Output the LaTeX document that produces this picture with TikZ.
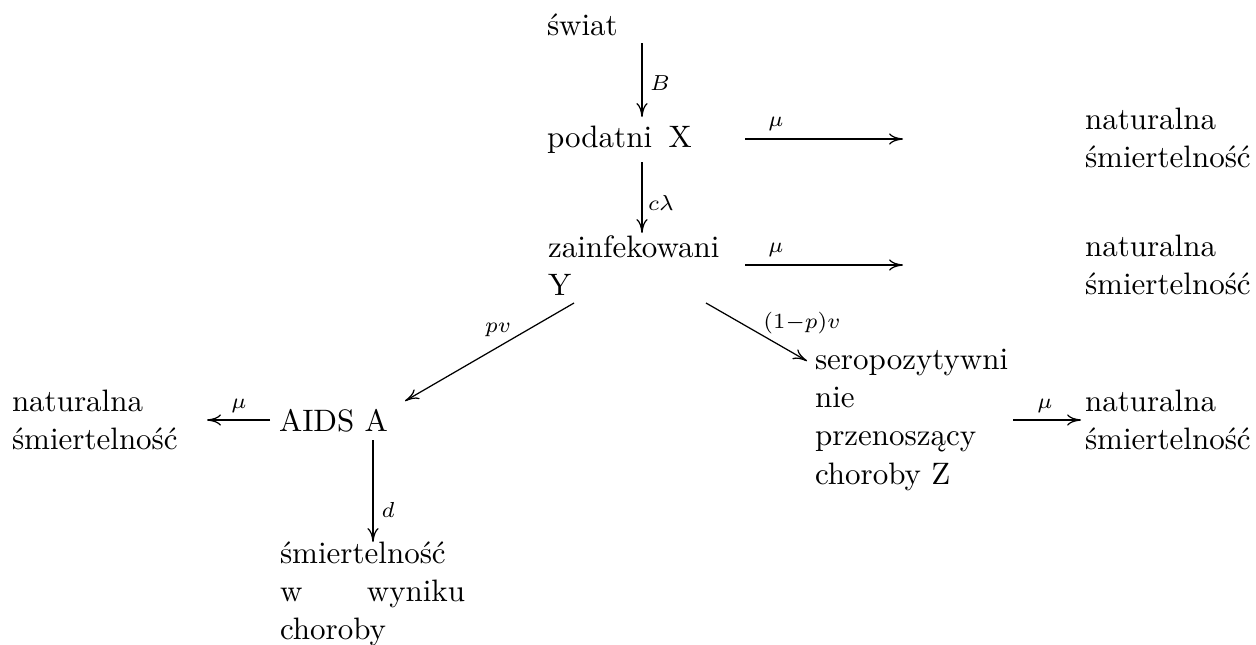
\documentclass[tikz,border=0pt]{standalone}
\usepackage{fontspec}
\usetikzlibrary{arrows.meta,calc}
\tikzset{
  txt/.style={inner sep=0pt, outer sep=0pt, anchor=base west, font=\fontsize{10}{12.4}\selectfont},
  lbl/.style={inner sep=0pt, font=\fontsize{10}{12}\selectfont},
  arr/.style={line width=0.4pt, -{To[length=4.5pt,width=3.6pt]}}
}
\begin{document}
\begin{tikzpicture}[x=0.32258pt, y={(0pt,-0.32258pt)}]
\useasboundingbox (0,0) rectangle (1256,644);
% nodes
\node[txt] (swiat) at (547,35) {świat};
\node[txt] (podatni) at (547,147) {podatni\hspace{5.3pt}X};
\node[txt] (zain) at (548,257) {\vtop{\hbox{zainfekowani}\hbox{Y}}};
\node[txt] (nat1) at (1085,129) {\vtop{\hbox{naturalna}\hbox{śmiertelność}}};
\node[txt] (nat2) at (1085,256) {\vtop{\hbox{naturalna}\hbox{śmiertelność}}};
\node[txt] (aids) at (279,431) {AIDS A};
\node[txt] (natL) at (12,411) {\vtop{\hbox{naturalna}\hbox{śmiertelność}}};
\node[txt] (sero) at (815,369) {\vtop{\hbox{seropozytywni}\hbox{nie}\hbox{przenoszący}\hbox{choroby Z}}};
\node[txt] (natR) at (1085,411) {\vtop{\hbox{naturalna}\hbox{śmiertelność}}};
\node[txt] (smierc) at (280,563) {\vtop{\hbox{śmiertelność}\hbox to 59.7pt{w\hfill wyniku}\hbox{choroby}}};
\coordinate (e1) at (903,139);
\coordinate (e2) at (903,265);
% connectors
\draw[arr] ($(swiat.base west)+(95,8)$) -- ($(podatni.base west)+(95,-30)$)
  node[lbl] at (660,83) {$\scriptstyle B$};
\draw[arr] ($(podatni.base west)+(95,15)$) -- ($(zain.base west)+(94,-24)$)
  node[lbl] at (661,203) {$\scriptstyle c\lambda$};
\draw[arr] ($(podatni.base west)+(198,-8)$) -- (e1)
  node[lbl] at (776,124) {$\scriptstyle \mu$};
\draw[arr] ($(zain.base west)+(197,8)$) -- (e2)
  node[lbl] at (776,250) {$\scriptstyle \mu$};
\draw[arr] ($(zain.base west)+(26,46)$) -- ($(aids.base west)+(126,-30)$)
  node[lbl] at (498,330) {$\scriptstyle pv$};
\draw[arr] ($(zain.base west)+(158,46)$) -- ($(sero.base west)+(-8,-8)$)
  node[lbl] at (802,323) {$\scriptstyle (1-p)v$};
\draw[arr] ($(aids.base west)+(-9,-11)$) -- ($(natL.base west)+(195,9)$)
  node[lbl] at (239,406) {$\scriptstyle \mu$};
\draw[arr] ($(aids.base west)+(94,9)$) -- ($(smierc.base west)+(93,-21)$)
  node[lbl] at (388,510) {$\scriptstyle d$};
\draw[arr] ($(sero.base west)+(198,51)$) -- ($(natR.base west)+(-4,9)$)
  node[lbl] at (1045,406) {$\scriptstyle \mu$};
\end{tikzpicture}
\end{document}
